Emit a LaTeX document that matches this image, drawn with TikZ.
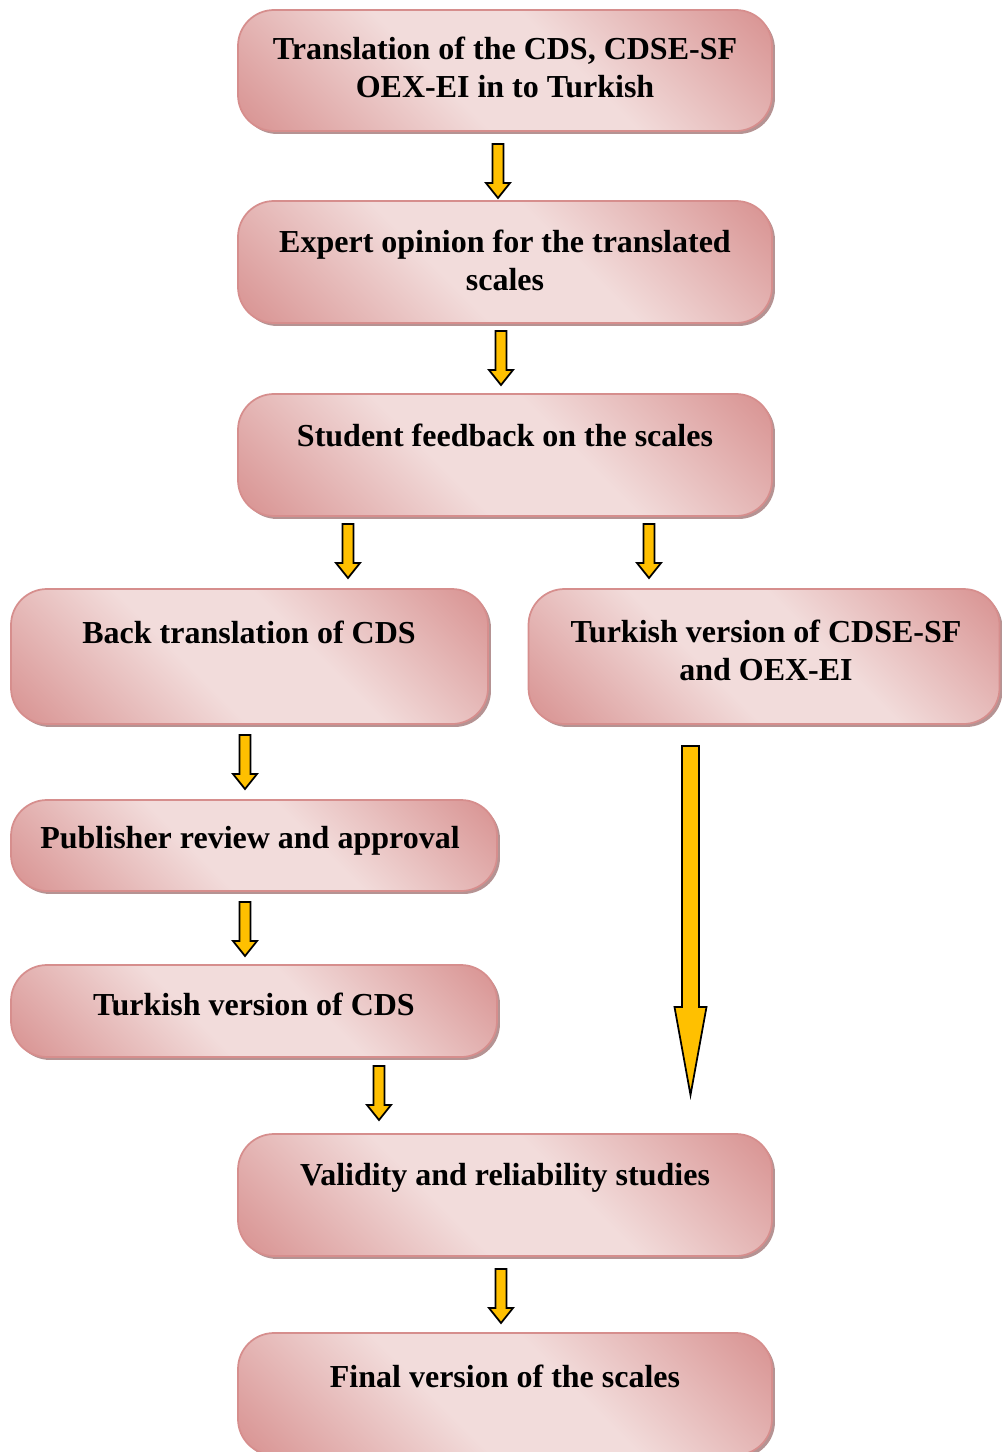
\documentclass[tikz,border=0pt]{standalone}
\usepackage{fontspec}
\setmainfont{Liberation Serif}
\usetikzlibrary{calc,shadows}
\definecolor{pdark}{HTML}{D99594}
\definecolor{plight}{HTML}{F2DCDB}
\definecolor{pborder}{HTML}{D68E8D}
\definecolor{pshadow}{HTML}{B59393}
\definecolor{gold}{HTML}{FFC000}
\pgfdeclarehorizontalshading{boxshade}{100bp}{color(0bp)=(pdark); color(16bp)=(pdark); color(42bp)=(plight); color(58bp)=(plight); color(84bp)=(pdark); color(100bp)=(pdark)}
\tikzset{
  box/.style={rectangle, rounded corners=27pt, shading=boxshade, shading angle=45,
    draw=pborder, line width=1.3pt, inner sep=0pt,
    drop shadow={shadow xshift=2.2pt, shadow yshift=-2.2pt, fill=pshadow, opacity=1}},
  txt/.style={font=\bfseries\fontsize{24}{28.5}\selectfont, align=center, inner sep=0pt},
  arrowbody/.style={fill=gold, draw=black, line width=1.3pt, line join=miter},
}
% block arrow from #1 down to #2: half shaft #3, half head #4, head length #5
\newcommand\blockdown[5]{%
  \draw[arrowbody] ($(#1)+(-#3,0)$) -- ($(#1)+(#3,0)$) -- ($(#2)+(#3,-#5)$) -- ($(#2)+(#4,-#5)$)
    -- (#2) -- ($(#2)+(-#4,-#5)$) -- ($(#2)+(-#3,-#5)$) -- cycle;}
\begin{document}
\begin{tikzpicture}[x=0.75pt,y=-0.75pt]
\useasboundingbox (0,0) rectangle (1002,1452);

% process boxes
\node[box, minimum width=400.5pt, minimum height=90.75pt] (b1) at (505,70.5) {};
\node[box, minimum width=400.5pt, minimum height=91.5pt] (b2) at (505,262) {};
\node[box, minimum width=400.5pt, minimum height=91.5pt] (b3) at (505,455) {};
\node[box, minimum width=357.75pt, minimum height=101.25pt] (b4) at (249.5,656.5) {};
\node[box, minimum width=353.25pt, minimum height=101.25pt] (b5) at (764,656.5) {};
\node[box, minimum width=364.5pt, minimum height=68.25pt] (b6) at (254,845.5) {};
\node[box, minimum width=364.5pt, minimum height=69pt] (b7) at (254,1011) {};
\node[box, minimum width=400.5pt, minimum height=91.5pt] (b8) at (505,1195) {};
\node[box, minimum width=400.5pt, minimum height=91.5pt] (b9) at (505,1394) {};

% box texts
\node[txt] (t1) at (505,67.5) {Translation of the CDS, CDSE-SF\\OEX-EI in to Turkish};
\node[txt] (t2) at (505,260) {Expert opinion for the translated\\scales};
\node[txt] (t3) at (505,435.5) {Student feedback on the scales};
\node[txt] (t4) at (249,632) {Back translation of CDS};
\node[txt] (t5) at (766,650) {Turkish version of CDSE-SF\\and OEX-EI};
\node[txt] (t6) at (250,841) {Publisher review and approval};
\node[txt] (t7) at (254,1004) {Turkish version of CDS};
\node[txt] (t8) at (505,1178) {Validity and reliability studies};
\node[txt] (t9) at (505,1376) {Final version of the scales};

% arrow end points
\coordinate (a1s) at (498,144);  \coordinate (a1e) at (498,198);
\coordinate (a2s) at (501,331);  \coordinate (a2e) at (501,385);
\coordinate (a3s) at (348,524);  \coordinate (a3e) at (348,578);
\coordinate (a4s) at (649,524);  \coordinate (a4e) at (649,578);
\coordinate (a5s) at (245,735);  \coordinate (a5e) at (245,789);
\coordinate (a6s) at (245,902);  \coordinate (a6e) at (245,956);
\coordinate (a7s) at (379,1066); \coordinate (a7e) at (379,1120);
\coordinate (a8s) at (501,1269); \coordinate (a8e) at (501,1323);
\coordinate (lgs) at (690.5,746); \coordinate (lge) at (690.5,1095);

\blockdown{a1s}{a1e}{5.5}{12}{15}
\blockdown{a2s}{a2e}{5.5}{12}{15}
\blockdown{a3s}{a3e}{5.5}{12}{15}
\blockdown{a4s}{a4e}{5.5}{12}{15}
\blockdown{a5s}{a5e}{5.5}{12}{15}
\blockdown{a6s}{a6e}{5.5}{12}{15}
\blockdown{a7s}{a7e}{5.5}{12}{15}
\blockdown{a8s}{a8e}{5.5}{12}{15}
\blockdown{lgs}{lge}{8.5}{16}{88}
\end{tikzpicture}
\end{document}
